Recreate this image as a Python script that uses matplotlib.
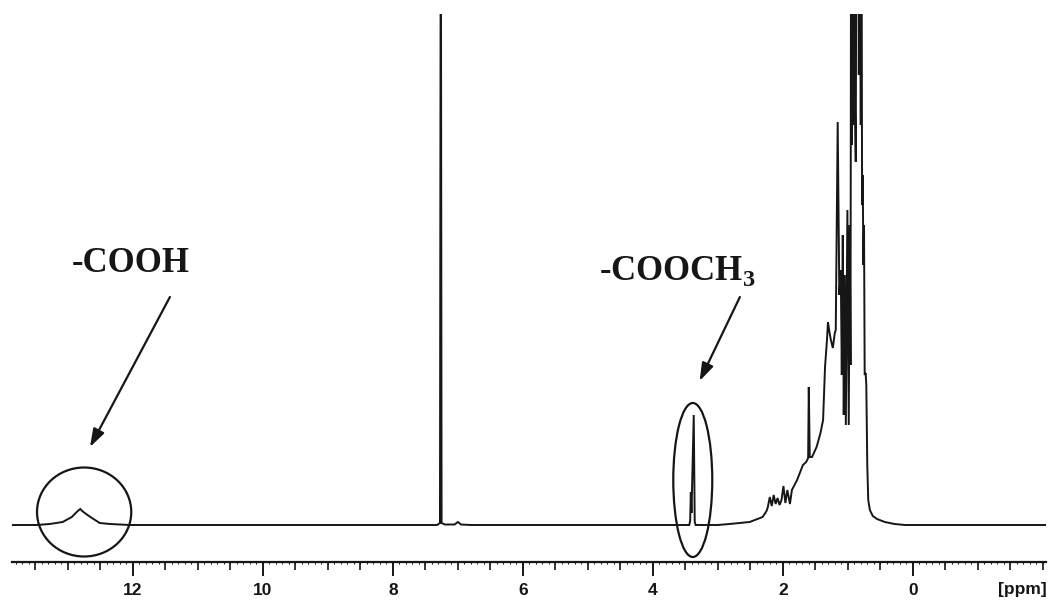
import matplotlib
matplotlib.use("Agg")
import matplotlib.pyplot as plt
from matplotlib.patches import Ellipse
from matplotlib.ticker import FixedLocator, MultipleLocator, NullFormatter, NullLocator

# 1H NMR trace: chemical shift (ppm) and signal intensity (arbitrary units)
shift_ppm = [
    13.86, 13.48, 13.28, 13.08, 12.94, 12.88, 12.83, 12.81, 12.78, 12.72, 12.63, 12.51, 12.35, 12.05,
    7.32, 7.275, 7.262, 7.25, 7.20, 7.05, 7.00, 6.95, 6.80,
    3.44, 3.425, 3.415, 3.405, 3.37, 3.355, 3.34,
    3.00, 2.82, 2.51, 2.31, 2.25, 2.23, 2.20, 2.17, 2.14, 2.11, 2.08, 2.05, 2.02, 1.99, 1.96,
    1.93, 1.89, 1.86, 1.82, 1.78, 1.69, 1.64, 1.61, 1.60, 1.585, 1.55, 1.48, 1.42, 1.38, 1.35,
    1.32, 1.305, 1.28, 1.26, 1.23, 1.20, 1.185, 1.155, 1.13, 1.108, 1.092, 1.077, 1.062, 1.046,
    1.03, 1.006, 0.985, 0.97, 0.958, 0.948, 0.94, 0.93, 0.918, 0.905, 0.89, 0.877, 0.865, 0.854,
    0.842, 0.83, 0.815, 0.80, 0.79, 0.78, 0.77, 0.76, 0.75, 0.74, 0.725, 0.715, 0.70, 0.685,
    0.66, 0.615, 0.55, 0.43, 0.28, 0.12, -2.05,
]
intensity = [
    0, 0, 1, 3, 8, 12, 15, 16, 14, 11, 7, 2, 1, 0,
    0, 2, 700, 2, 0.5, 0.5, 3, 0.5, 0,
    0, 4, 33, 12, 110, 3, 0,
    0, 1, 3, 8, 14, 18, 28, 19, 30, 21, 27, 20, 25, 39, 22,
    35, 21, 35, 40, 45, 60, 63, 67, 138, 68, 68, 78, 92, 105, 158,
    185, 203, 192, 185, 177, 192, 195, 403, 230, 255, 150, 290, 110, 250,
    100, 315, 100, 300, 160, 700, 380, 700, 400, 700, 420, 363, 700, 520,
    700, 450, 700, 400, 700, 320, 350, 260, 300, 150, 152, 140, 60, 25,
    15, 9, 6, 3, 1, 0, 0,
]

labeled_ticks = [12, 10, 8, 6, 4, 2, 0]
tick_labels = ["12", "10", "8", "6", "4", "2", "0"]

# Annotated groups: (label, ring centre ppm, ring centre intensity, ring width ppm, ring height)
cooh_label = "-COOH"
cooh_ring = (12.75, 13, 1.45, 89)
cooch3_label = r"-COOCH$_\mathbf{3}$"
cooch3_ring = (3.385, 45, 0.60, 154)

ink = "#161616"

plt.rcParams["mathtext.fontset"] = "custom"
plt.rcParams["mathtext.rm"] = "Liberation Serif:bold"
plt.rcParams["mathtext.bf"] = "Liberation Serif:bold"

fig = plt.figure(figsize=(10.51, 6.02), dpi=100)
ax = fig.add_axes([12 / 1051, 40 / 602, 1034 / 1051, 548 / 602])

ax.plot(shift_ppm, intensity, color=ink, lw=1.4, solid_joinstyle="miter")

ax.set_xlim(13.86, -2.05)
ax.set_ylim(-37, 511)

for side in ("left", "right", "top"):
    ax.spines[side].set_visible(False)
ax.spines["bottom"].set_linewidth(1.6)
ax.spines["bottom"].set_color(ink)
ax.yaxis.set_major_locator(NullLocator())

ax.xaxis.set_major_locator(FixedLocator(labeled_ticks))
ax.set_xticklabels(tick_labels, fontfamily="Liberation Sans", fontweight="bold",
                   fontsize=12.5, color=ink)
ax.xaxis.set_minor_locator(MultipleLocator(0.5))
ax.xaxis.set_minor_formatter(NullFormatter())
ax.tick_params(axis="x", which="major", length=10, width=1.4, color=ink, pad=5)
ax.tick_params(axis="x", which="minor", length=6, width=1.2, color=ink)

# fine 0.1 ppm graduation
fine = ax.secondary_xaxis("bottom")
fine.spines["bottom"].set_visible(False)
fine.xaxis.set_major_locator(NullLocator())
fine.xaxis.set_minor_locator(MultipleLocator(0.1))
fine.xaxis.set_minor_formatter(NullFormatter())
fine.tick_params(axis="x", which="minor", length=1.6, width=0.7, color=ink)

ax.text(-1.68, -0.051, "[ppm]", transform=ax.get_xaxis_transform(),
        ha="center", va="center", fontfamily="Liberation Sans", fontweight="bold",
        fontsize=12.5, color=ink)

for cx, cy, w, h in (cooh_ring, cooch3_ring):
    ax.add_patch(Ellipse((cx, cy), w, h, fill=False, lw=1.6, ec=ink, clip_on=False))

arrow = dict(arrowstyle="-|>,head_length=0.9,head_width=0.3", mutation_scale=12, lw=1.6,
             color=ink, shrinkA=0, shrinkB=0)
ax.annotate("", xy=(12.66, 78), xytext=(11.43, 228), arrowprops=arrow)
ax.annotate("", xy=(3.28, 144), xytext=(2.66, 228), arrowprops=arrow)

ax.text(12.03, 262, cooh_label, ha="center", va="center", fontfamily="Liberation Serif",
        fontweight="bold", fontsize=25, color=ink)
ax.text(3.63, 254, cooch3_label, ha="center", va="center", fontfamily="Liberation Serif",
        fontweight="bold", fontsize=25, color=ink)

fig.savefig("out.png", dpi=100)
